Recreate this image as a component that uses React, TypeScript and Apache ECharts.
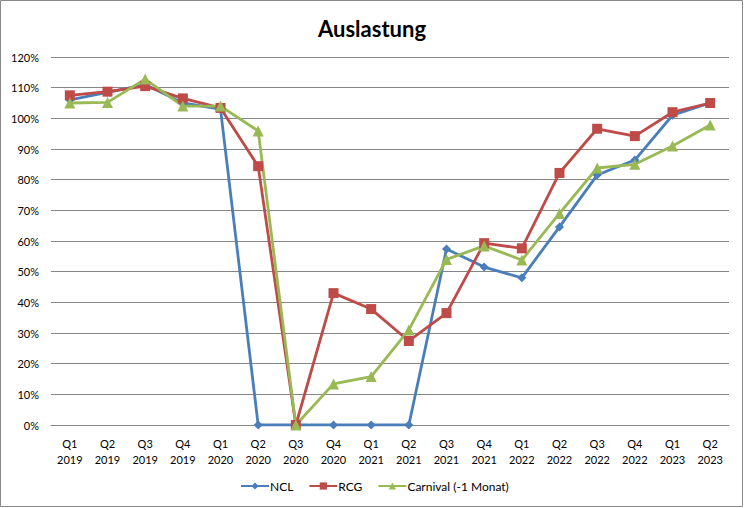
import React, { useEffect, useRef } from "react";
import * as echarts from "echarts";

const categories = [
  "Q1\n2019", "Q2\n2019", "Q3\n2019", "Q4\n2019",
  "Q1\n2020", "Q2\n2020", "Q3\n2020", "Q4\n2020",
  "Q1\n2021", "Q2\n2021", "Q3\n2021", "Q4\n2021",
  "Q1\n2022", "Q2\n2022", "Q3\n2022", "Q4\n2022",
  "Q1\n2023", "Q2\n2023",
];
const ncl = [106, 108.5, 111, 105, 103, 0, 0, 0, 0, 0, 57.4, 51.5, 48, 64.6, 81.5, 86.4, 101, 105];
const rcg = [107.5, 108.7, 110.5, 106.5, 103.4, 84.4, 0, 43, 37.8, 27.4, 36.5, 59.3, 57.6, 82.2, 96.6, 94.2, 102, 105];
const carnival = [105, 105.2, 112.8, 104, 104, 95.9, 0, 13.4, 15.8, 31, 54, 58.4, 53.8, 69, 83.8, 85, 91, 97.8];

const FONT = "Lato, 'Noto Sans', sans-serif";

export default function App() {
  const ref = useRef<HTMLDivElement>(null);
  useEffect(() => {
    document.body.style.margin = "0";
    const chart = echarts.init(ref.current!, null, { renderer: "svg" });
    const lineSeries = (name: string, data: number[], color: string, symbol: string, size: number) => ({
      name,
      type: "line",
      data,
      symbol,
      symbolSize: size,
      showAllSymbol: true,
      lineStyle: { color, width: 2.8 },
      itemStyle: { color },
    });
    chart.setOption({
      animation: false,
      backgroundColor: "#fff",
      textStyle: { fontFamily: FONT },
      title: {
        text: "Auslastung",
        left: "center",
        top: 12,
        textStyle: { fontFamily: FONT, fontSize: 22, fontWeight: "bold", color: "#000" },
      },
      graphic: [
        {
          type: "rect",
          shape: { x: 0.5, y: 0.5, width: 742, height: 506 },
          style: { fill: "none", stroke: "#888", lineWidth: 1 },
          silent: true,
        },
      ],
      grid: { left: 51, right: 15, top: 57, bottom: 83, containLabel: false },
      legend: {
        top: 480,
        left: 240,
        itemWidth: 28,
        itemHeight: 9,
        itemGap: 15,
        padding: 0,
        textStyle: { fontFamily: FONT, fontSize: 12, color: "#000", padding: [0, 0, 0, -4] },
        data: ["NCL", "RCG", "Carnival (-1 Monat)"],
      },
      xAxis: {
        type: "category",
        data: categories,
        boundaryGap: true,
        axisLine: { show: true, lineStyle: { color: "#868686", width: 1 } },
        axisTick: { show: false },
        axisLabel: {
          interval: 0,
          fontFamily: FONT,
          fontSize: 11,
          color: "#000",
          lineHeight: 16,
          margin: 10,
        },
      },
      yAxis: {
        type: "value",
        min: 0,
        max: 120,
        interval: 10,
        axisLine: { show: false },
        axisTick: { show: false },
        splitLine: { lineStyle: { color: "#868686", width: 1 } },
        axisLabel: {
          formatter: "{value}%",
          fontFamily: FONT,
          fontSize: 11,
          color: "#000",
          margin: 12,
        },
      },
      series: [
        lineSeries("NCL", ncl, "#4A7EBB", "diamond", 9),
        lineSeries("RCG", rcg, "#BE4B48", "rect", 10),
        lineSeries("Carnival (-1 Monat)", carnival, "#98B954", "triangle", 11),
      ],
    });
    return () => chart.dispose();
  }, []);
  return <div ref={ref} style={{ width: 744, height: 508 }} />;
}
